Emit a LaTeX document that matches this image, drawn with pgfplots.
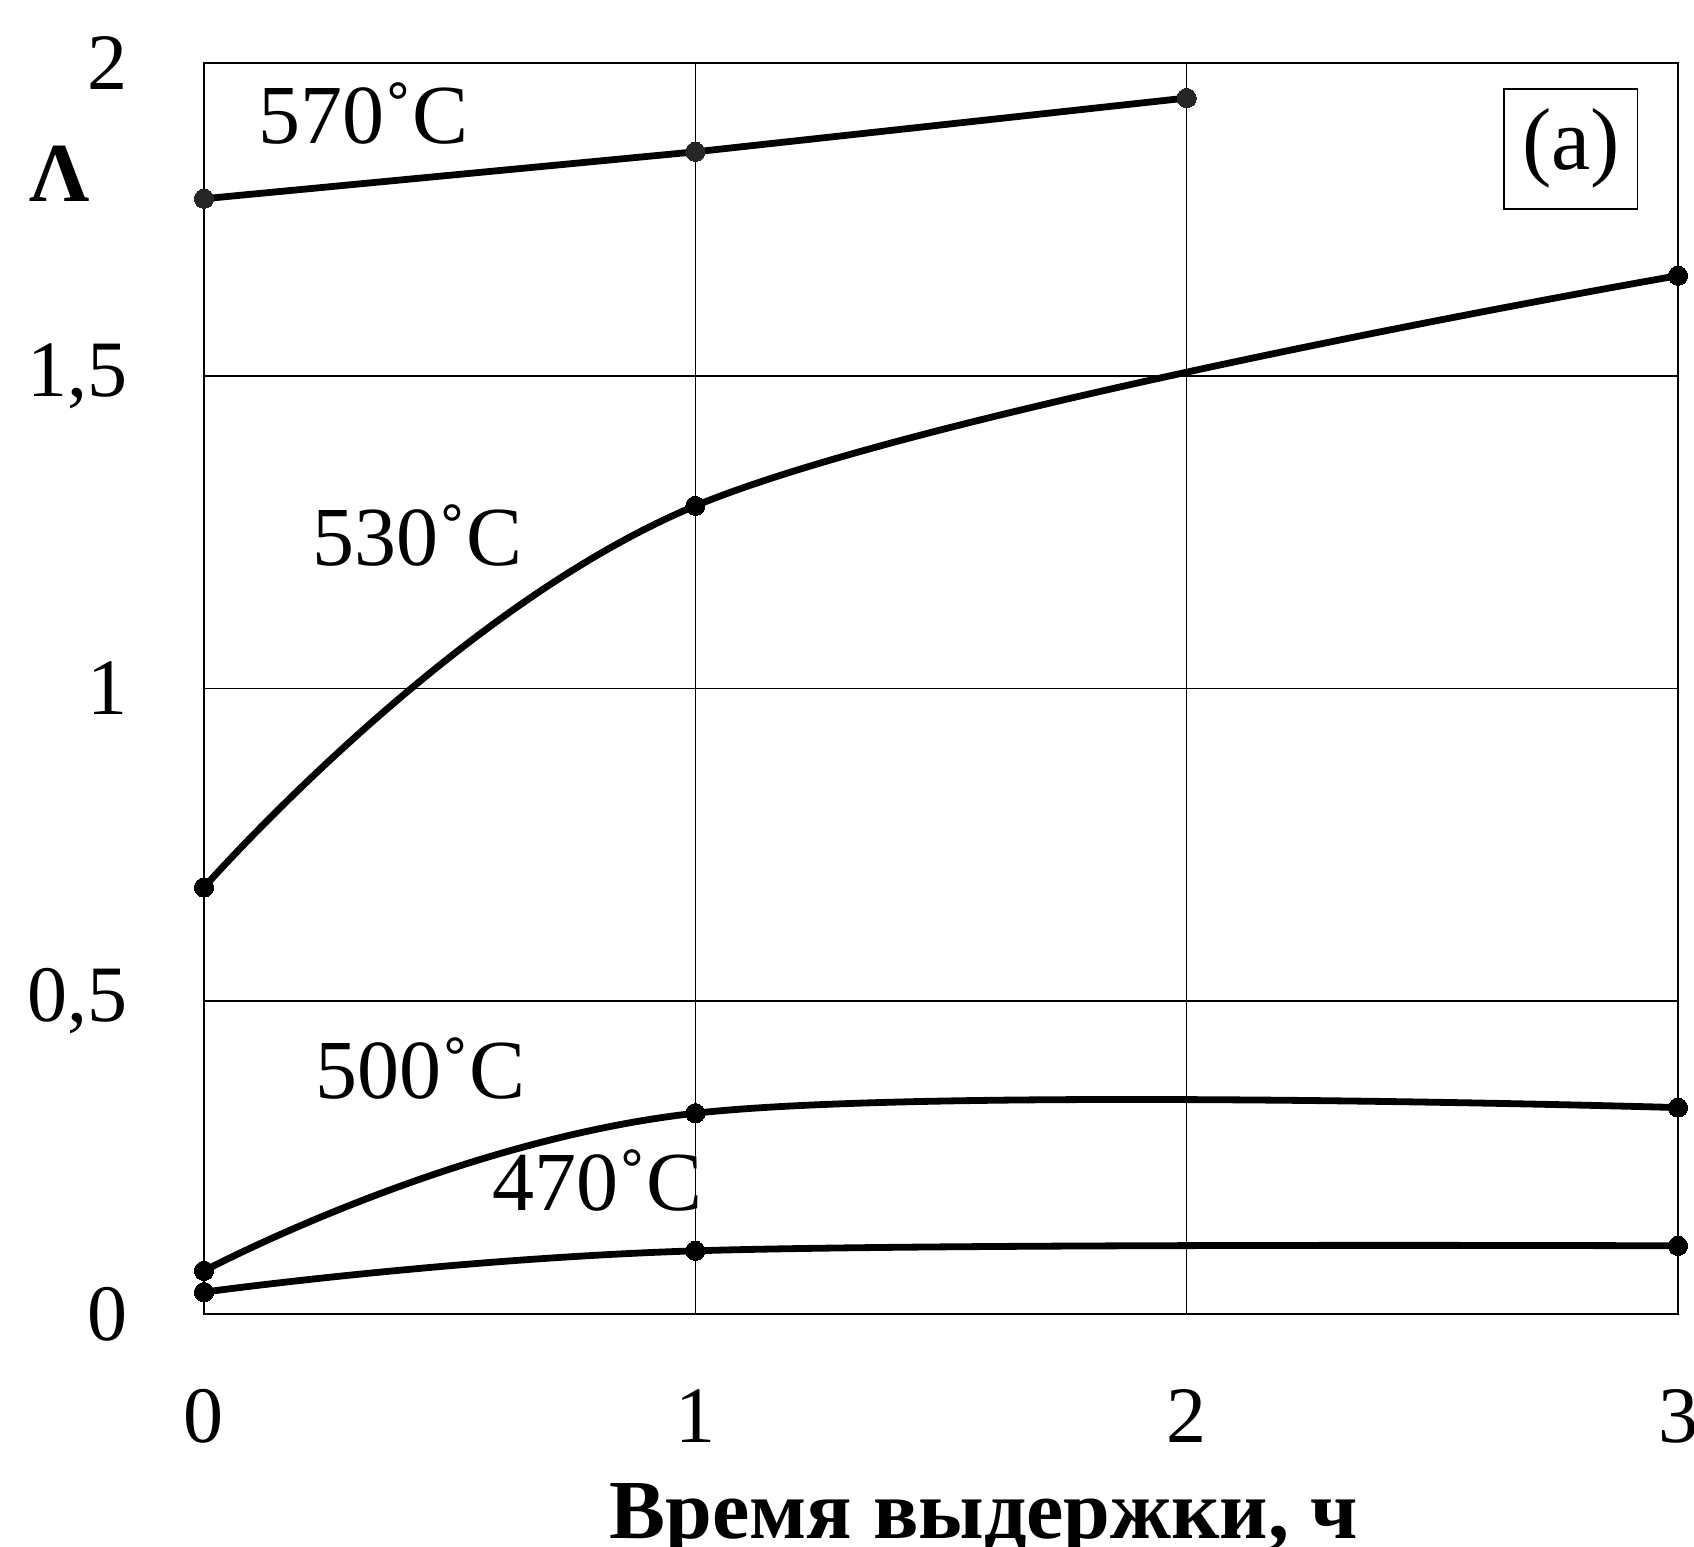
\documentclass[border=0pt]{standalone}
\usepackage{fontspec}
\setmainfont{Liberation Serif}
\usepackage{pgfplots}
\pgfplotsset{compat=1.18}

\begin{document}
\begin{tikzpicture}
\begin{axis}[
    at={(0,0)}, anchor=south west,
    scale only axis,
    width=368.5pt, height=312.75pt,
    xmin=0, xmax=3, ymin=0, ymax=2,
    xtick={0,1,2,3}, ytick={0,0.5,1,1.5,2},
    /pgf/number format/assume math mode=true,
    /pgf/number format/use comma,
    major tick length=0pt,
    grid=major,
    grid style={black, line width=0.4pt},
    axis line style={black, line width=0.4pt},
    tick label style={font=\fontsize{20}{24}\selectfont},
    xticklabel style={anchor=base, inner sep=0pt, yshift=-32pt},
    yticklabel style={anchor=east, inner sep=0pt, xshift=-19pt},
    every axis plot/.append style={line width=1.7pt, mark=*, mark size=2.4pt},
    clip=false,
]
% 570 C
\addplot[black, mark options={fill=black!85, draw=black!85, line width=0pt}]
    coordinates {(0,1.783)(1,1.858)(2,1.944)};
% 530 C
\addplot[black, smooth, tension=0.6, mark options={line width=0pt}]
    coordinates {(0,0.682)(1,1.292)(3,1.660)};
% 500 C
\addplot[black, smooth, tension=0.6, mark options={line width=0pt}]
    coordinates {(0,0.069)(1,0.321)(3,0.330)};
% 470 C
\addplot[black, smooth, tension=0.6, mark options={line width=0pt}]
    coordinates {(0,0.035)(1,0.101)(3,0.109)};

\node[anchor=base, font=\fontsize{21}{24}\selectfont] at (axis cs:0.325,1.872) {570˚C};
\node[anchor=base, font=\fontsize{21}{24}\selectfont] at (axis cs:0.434,1.196) {530˚C};
\node[anchor=base, font=\fontsize{21}{24}\selectfont] at (axis cs:0.44,0.344) {500˚C};
\node[anchor=base, font=\fontsize{21}{24}\selectfont] at (axis cs:0.80,0.165) {470˚C};
\node[draw=black, line width=0.4pt, fill=white, minimum width=33.4pt, minimum height=30pt,
    inner sep=0pt, font=\fontsize{22}{24}\selectfont] at (axis cs:2.782,1.863) {(a)};
\node[font=\bfseries\fontsize{21}{24}\selectfont] at ([xshift=-36pt]axis cs:0,1.823) {Λ};
\node[anchor=base, font=\bfseries\fontsize{21}{24}\selectfont]
    at ([yshift=-56pt]axis cs:1.587,0) {Время выдержки, ч};
\end{axis}
\pgfresetboundingbox
\path (-51pt,-58pt) rectangle (372.5pt,328.5pt);
\end{tikzpicture}
\end{document}
